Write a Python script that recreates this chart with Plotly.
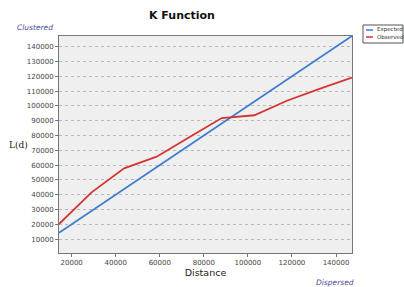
import plotly.graph_objects as go

distance = [14240, 29020, 43800, 58580, 73360, 88140, 102920, 117700, 132480, 147260]
expected = [14240, 29020, 43800, 58580, 73360, 88140, 102920, 117700, 132480, 147260]
observed = [20150, 41600, 57800, 65700, 78800, 91800, 93700, 103500, 111500, 119200]

x_ticks = [20000, 40000, 60000, 80000, 100000, 120000, 140000]
y_ticks = [10000, 20000, 30000, 40000, 50000, 60000, 70000, 80000, 90000, 100000,
           110000, 120000, 130000, 140000]

series_names = ["Expected", "Observed"]
series_colors = ["#3b7bd0", "#d43333"]

W, H = 404, 287
L, R, T, B = 59, 352, 36, 253


def px(x):
    return (x - L) / (R - L)


def py(y):
    return (B - y) / (B - T)


def note(text, x, y, size, color, family="DejaVu Sans", xanchor="center"):
    return dict(text=text, x=px(x), y=py(y), xref="paper", yref="paper",
                xanchor=xanchor, yanchor="middle", showarrow=False,
                font=dict(family=family, size=size, color=color))


fig = go.Figure()
for name, vals, col in zip(series_names, [expected, observed], series_colors):
    fig.add_trace(go.Scatter(x=distance, y=vals, mode="lines", name=name,
                             line=dict(color=col, width=1.8), showlegend=False))

tickfont = dict(family="DejaVu Sans", size=7, color="#444444")
annotations = [
    note("<b>K Function</b>", 182, 15, 11, "#111"),
    note("<i>Clustered</i>", 15, 27, 7.5, "#4a4a9a", xanchor="left"),
    note("<i>Dispersed</i>", 314, 282, 7.5, "#4a4a9a", xanchor="left"),
    note("L(d)", 18, 145, 9, "#222", family="DejaVu Serif"),
]
shapes = [
    dict(type="rect", xref="paper", yref="paper", x0=px(363), x1=px(403),
         y0=py(43), y1=py(25), line=dict(color="#555", width=1), fillcolor="white"),
]
for i, (name, col) in enumerate(zip(series_names, series_colors)):
    yy = 30 + i * 7
    shapes.append(dict(type="line", xref="paper", yref="paper", x0=px(366), x1=px(373),
                       y0=py(yy), y1=py(yy), line=dict(color=col, width=1.5)))
    annotations.append(note(name, 375, yy, 5.5, "#333", xanchor="left"))

fig.update_layout(
    width=W, height=H,
    margin=dict(l=L, r=W - R, t=T, b=H - B, autoexpand=False),
    paper_bgcolor="white", plot_bgcolor="#efefef",
    showlegend=False,
    xaxis=dict(range=[distance[0], distance[-1]], tickvals=x_ticks,
               ticktext=[str(v) for v in x_ticks], automargin=False,
               showgrid=False, zeroline=False, showline=True, mirror=True,
               linecolor="#777", linewidth=1, ticks="outside", ticklen=3,
               tickcolor="#777", tickfont=tickfont,
               title=dict(text="Distance", font=dict(family="DejaVu Sans", size=9.5, color="#222"),
                          standoff=1)),
    yaxis=dict(range=[600, distance[-1]], tickvals=y_ticks,
               ticktext=[str(v) for v in y_ticks], automargin=False,
               showgrid=True, gridcolor="#b8b8b8", griddash="dot", gridwidth=1,
               zeroline=False, showline=True, mirror=True,
               linecolor="#777", linewidth=1, ticks="outside", ticklen=3,
               tickcolor="#777", tickfont=tickfont),
    annotations=annotations,
    shapes=shapes,
)
fig.write_html("out.html", config={"displayModeBar": False},
               post_script="document.body.style.margin='0px';")
